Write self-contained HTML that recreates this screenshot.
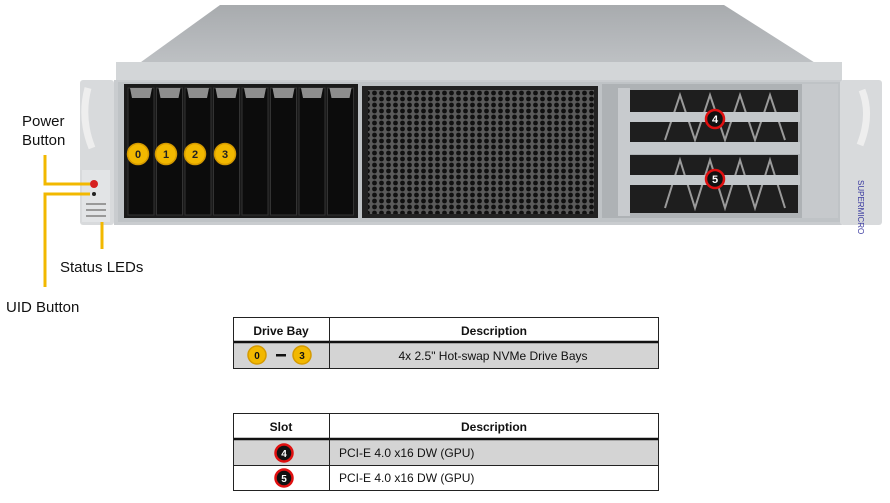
<!DOCTYPE html>
<html><head><meta charset="utf-8"><style>
body{margin:0;background:#fff;width:890px;height:498px;overflow:hidden;font-family:"Liberation Sans",Arial,sans-serif}
</style></head><body>
<svg width="890" height="498" viewBox="0 0 890 498" xmlns="http://www.w3.org/2000/svg" font-family="Liberation Sans, Arial, sans-serif">
<defs>
<pattern id="hex" width="7" height="6" patternUnits="userSpaceOnUse">
<rect width="7" height="6" fill="#5a5a5a"/><circle cx="3.5" cy="3" r="2.4" fill="#111"/>
</pattern>
<linearGradient id="top" x1="0" y1="0" x2="0" y2="1"><stop offset="0" stop-color="#a8abae"/><stop offset="1" stop-color="#c4c7ca"/></linearGradient>
</defs>
<!-- top face -->
<polygon points="220,5 724,5 842,80 116,80" fill="url(#top)"/>
<rect x="116" y="62" width="726" height="18" fill="#d3d6d8"/>
<!-- front -->
<rect x="114" y="80" width="728" height="145" fill="#c9cccf"/>
<rect x="118" y="82" width="722" height="140" fill="#bfc3c6"/>
<!-- left ear -->
<rect x="80" y="80" width="34" height="145" rx="3" fill="#d8dadc"/>
<path d="M88 88 q-8 30 4 60" stroke="#eee" stroke-width="7" fill="none"/>
<rect x="82" y="170" width="28" height="52" fill="#e2e4e6"/>
<circle cx="94" cy="184" r="4" fill="#d62020"/>
<circle cx="94" cy="194" r="2" fill="#222"/>
<rect x="86" y="203" width="20" height="2" fill="#999"/><rect x="86" y="209" width="20" height="2" fill="#999"/><rect x="86" y="215" width="20" height="2" fill="#999"/>
<!-- drive bays -->
<rect x="124" y="84" width="234" height="134" fill="#1a1a1a"/>
<g fill="#0c0c0c" stroke="#333" stroke-width="1">
<rect x="128" y="88" width="26" height="127"/><rect x="156.5" y="88" width="26" height="127"/>
<rect x="185" y="88" width="26" height="127"/><rect x="213.5" y="88" width="26" height="127"/>
<rect x="242" y="88" width="26" height="127"/><rect x="270.5" y="88" width="26" height="127"/>
<rect x="299" y="88" width="26" height="127"/><rect x="327.5" y="88" width="26" height="127"/>
</g>
<g fill="#8e8e8e">
<polygon points="130,88 152,88 150,98 132,98"/><polygon points="158.5,88 180.5,88 178.5,98 160.5,98"/>
<polygon points="187,88 209,88 207,98 189,98"/><polygon points="215.5,88 237.5,88 235.5,98 217.5,98"/>
<polygon points="244,88 266,88 264,98 246,98"/><polygon points="272.5,88 294.5,88 292.5,98 274.5,98"/>
<polygon points="301,88 323,88 321,98 303,98"/><polygon points="329.5,88 351.5,88 349.5,98 331.5,98"/>
</g>
<!-- fan grille -->
<rect x="362" y="86" width="236" height="132" fill="#222"/>
<rect x="368" y="90" width="226" height="124" fill="url(#hex)"/>
<!-- GPU area -->
<rect x="602" y="84" width="204" height="134" fill="#aeb2b5"/>
<rect x="630" y="90" width="168" height="56" fill="#1e1e1e"/>
<rect x="630" y="155" width="168" height="58" fill="#1e1e1e"/>
<g stroke="#9a9a9a" stroke-width="2" fill="none">
<path d="M665 140 L680 95 L695 140 L710 95 L725 140 L740 95 L755 140 L770 95 L785 140"/>
<path d="M665 208 L680 160 L695 208 L710 160 L725 208 L740 160 L755 208 L770 160 L785 208"/>
</g>
<rect x="628" y="112" width="172" height="10" fill="#c3c7ca"/>
<rect x="628" y="142" width="172" height="12" fill="#c3c7ca"/>
<rect x="628" y="175" width="172" height="10" fill="#c3c7ca"/>
<rect x="618" y="88" width="12" height="128" fill="#c8cbce"/>
<rect x="802" y="84" width="36" height="134" fill="#c6c9cc"/>
<!-- right ear -->
<rect x="840" y="80" width="42" height="145" rx="3" fill="#d8dadc"/>
<path d="M862 90 q10 25 -2 55" stroke="#eee" stroke-width="7" fill="none"/>
<text x="0" y="0" font-size="8" fill="#3a3aa0" transform="translate(858,180) rotate(90)">SUPERMICRO</text>
<!-- yellow circles -->
<g font-size="11" font-weight="bold" text-anchor="middle" fill="#222">
<circle cx="138" cy="154" r="10.5" fill="#f2b800" stroke="#d59a00" stroke-width="1.5"/><text x="138" y="158">0</text>
<circle cx="166" cy="154" r="10.5" fill="#f2b800" stroke="#d59a00" stroke-width="1.5"/><text x="166" y="158">1</text>
<circle cx="195" cy="154" r="10.5" fill="#f2b800" stroke="#d59a00" stroke-width="1.5"/><text x="195" y="158">2</text>
<circle cx="225" cy="154" r="10.5" fill="#f2b800" stroke="#d59a00" stroke-width="1.5"/><text x="225" y="158">3</text>
</g>
<g font-size="11" font-weight="bold" text-anchor="middle" fill="#fff">
<circle cx="715" cy="119" r="9" fill="#111" stroke="#e01010" stroke-width="2.5"/><text x="715" y="123">4</text>
<circle cx="715" cy="179" r="9" fill="#111" stroke="#e01010" stroke-width="2.5"/><text x="715" y="183">5</text>
</g>
<!-- callout lines -->
<g stroke="#f2b800" stroke-width="3" fill="none">
<polyline points="45,155 45,184 90,184"/>
<polyline points="90,194 45,194 45,287"/>
<line x1="102" y1="222" x2="102" y2="249"/>
</g>
<g font-size="15" fill="#111">
<text x="22" y="126">Power</text><text x="22" y="145">Button</text>
<text x="60" y="272">Status LEDs</text>
<text x="6" y="312">UID Button</text>
</g>
<!-- table 1 -->
<g font-size="12" fill="#111">
<rect x="233" y="343" width="426" height="25" fill="#d4d4d4"/>
<line x1="233" y1="317.5" x2="659" y2="317.5" stroke="#222"/>
<line x1="233" y1="342" x2="659" y2="342" stroke="#111" stroke-width="2.5"/>
<line x1="233" y1="368.5" x2="659" y2="368.5" stroke="#222"/>
<line x1="233.5" y1="317" x2="233.5" y2="369" stroke="#222"/>
<line x1="329.5" y1="317" x2="329.5" y2="369" stroke="#222"/>
<line x1="658.5" y1="317" x2="658.5" y2="369" stroke="#222"/>
<text x="281" y="335" text-anchor="middle" font-weight="bold">Drive Bay</text>
<text x="494" y="335" text-anchor="middle" font-weight="bold">Description</text>
<circle cx="257" cy="355" r="9" fill="#f2b800" stroke="#d59a00" stroke-width="1.5"/><text x="257" y="359" text-anchor="middle" font-size="10" font-weight="bold">0</text>
<rect x="276" y="354" width="10" height="2.5" fill="#111"/>
<circle cx="302" cy="355" r="9" fill="#f2b800" stroke="#d59a00" stroke-width="1.5"/><text x="302" y="359" text-anchor="middle" font-size="10" font-weight="bold">3</text>
<text x="493" y="360" text-anchor="middle">4x 2.5" Hot-swap NVMe Drive Bays</text>
</g>
<!-- table 2 -->
<g font-size="12" fill="#111">
<rect x="233" y="440" width="426" height="25" fill="#d4d4d4"/>
<line x1="233" y1="413.5" x2="659" y2="413.5" stroke="#222"/>
<line x1="233" y1="439" x2="659" y2="439" stroke="#111" stroke-width="2.5"/>
<line x1="233" y1="465.5" x2="659" y2="465.5" stroke="#222"/>
<line x1="233" y1="490.5" x2="659" y2="490.5" stroke="#222"/>
<line x1="233.5" y1="413" x2="233.5" y2="491" stroke="#222"/>
<line x1="329.5" y1="413" x2="329.5" y2="491" stroke="#222"/>
<line x1="658.5" y1="413" x2="658.5" y2="491" stroke="#222"/>
<text x="281" y="431" text-anchor="middle" font-weight="bold">Slot</text>
<text x="494" y="431" text-anchor="middle" font-weight="bold">Description</text>
<circle cx="284" cy="453" r="8.5" fill="#111" stroke="#e01010" stroke-width="2.5"/><text x="284" y="457" text-anchor="middle" font-size="10" font-weight="bold" fill="#fff">4</text>
<circle cx="284" cy="478" r="8.5" fill="#111" stroke="#e01010" stroke-width="2.5"/><text x="284" y="482" text-anchor="middle" font-size="10" font-weight="bold" fill="#fff">5</text>
<text x="339" y="457">PCI-E 4.0 x16 DW (GPU)</text>
<text x="339" y="482">PCI-E 4.0 x16 DW (GPU)</text>
</g>
</svg>
</body></html>
